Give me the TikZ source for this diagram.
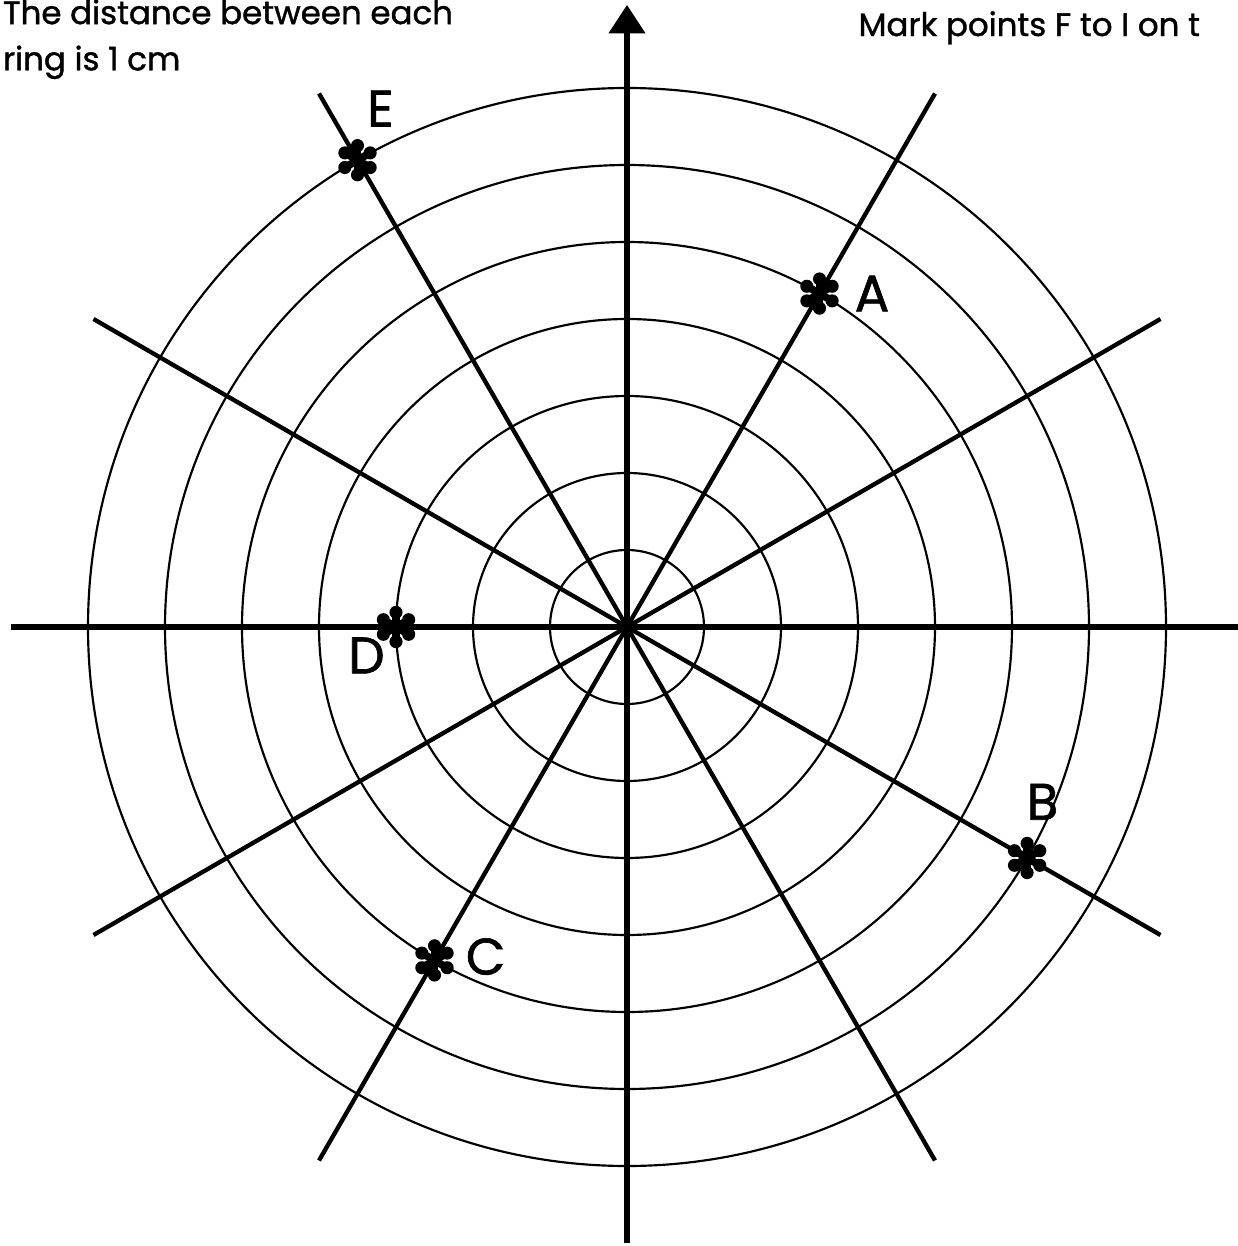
\documentclass[tikz,border=0pt]{standalone}
\usepackage{fontspec}
\setmainfont{Poppins}[FakeBold=1.2]
\usetikzlibrary{arrows.meta,positioning}

\tikzset{
  ring/.style={line width=0.8pt},
  spoke/.style={line width=1.6pt},
  axis/.style={line width=2.2pt},
  note/.style={font=\fontsize{12}{14}\selectfont, inner sep=0pt},
  ptlabel/.style={font=\fontsize{19}{22}\selectfont, inner sep=0pt},
  flower/.pic={
    \foreach \a in {30,90,...,330} {
      \draw[line width=2.8pt, line cap=round] (0,0) -- (\a:0.16);
      \fill (\a:0.19) circle (0.085);
    }
    \fill (0,0) circle (0.09);
  }
}

\begin{document}
\begin{tikzpicture}
\useasboundingbox (-8.143,-8.039) rectangle (7.935,8.143);
\coordinate (O) at (0,0);

% The rings, 1 cm apart
\foreach \r in {1,...,7}
  \draw[ring] (O) circle (\r);

% The spokes
\foreach \a in {30,60,120,150,210,240,300,330}
  \draw[spoke] (O) -- (\a:8);

% The axes
\coordinate (W) at (180:8);
\coordinate (Ea) at (0:8);
\coordinate (S) at (270:8);
\coordinate (N) at (90:8.08);
\draw[axis] (W) -- (Ea);
\draw[axis, -{Triangle[width=0.46cm,length=0.37cm]}] (S) -- (N);

% The marked points
\coordinate (A) at (60:5);
\coordinate (B) at (-30:6);
\coordinate (C) at (240:5);
\coordinate (D) at (180:3);
\coordinate (E) at (120:7);
\foreach \p in {A,B,C,D,E}
  \pic at (\p) {flower};

\node[ptlabel, right=0.45cm of A] (lA) {A};
\node[ptlabel, above=0.49cm of B, xshift=0.2cm] (lB) {B};
\node[ptlabel, right=0.4cm of C, yshift=0.05cm] (lC) {C};
\node[ptlabel, below left=0.13cm and 0.14cm of D] (lD) {D};
\node[ptlabel, above right=0.43cm and 0.12cm of E] (lE) {E};

% The notes
\node[note, anchor=base west] (note1) at (-8.11,7.83) {The distance between each};
\node[note, anchor=base west, yshift=-0.6cm] (note2) at (note1.base west) {ring is 1 cm};
\node[note, anchor=base west] (note3) at (3.0,7.675) {Mark points F to I on t};

\end{tikzpicture}
\end{document}
